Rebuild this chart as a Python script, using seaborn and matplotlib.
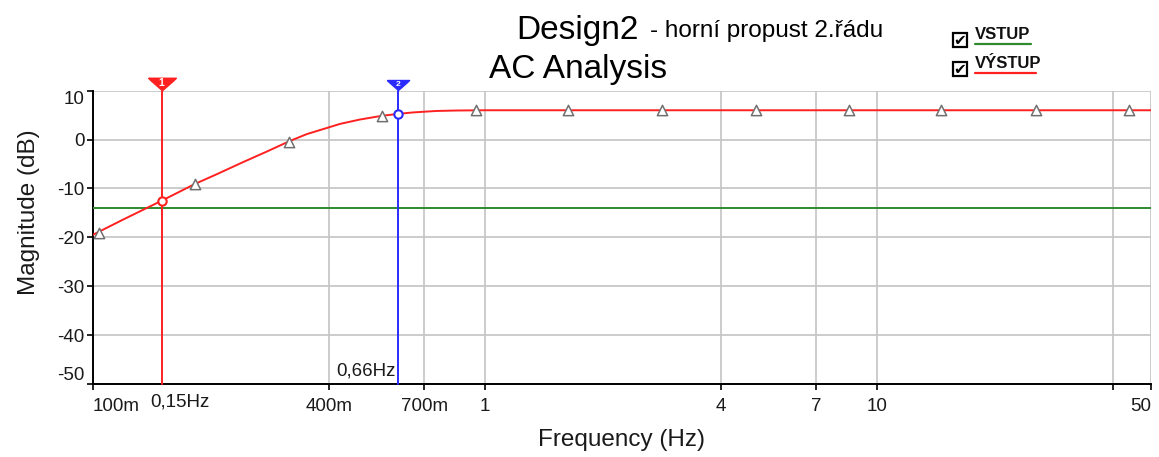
import matplotlib
matplotlib.use("Agg")
import matplotlib.pyplot as plt
import matplotlib.transforms as mtransforms
from matplotlib.path import Path
from matplotlib.patches import Rectangle
from matplotlib.lines import Line2D
from matplotlib import font_manager
import seaborn as sns

# ---------------- data ----------------
freq_hz = [0.1, 0.12, 0.15, 0.182, 0.207, 0.242, 0.278, 0.316, 0.351, 0.4, 0.427,
           0.48, 0.545, 0.6, 0.655, 0.75, 0.85, 1.0, 1.5, 3.0, 10.0, 50.0]
vystup_db = [-19.5, -16.3, -12.5, -9.1, -7.1, -4.6, -2.45, -0.4, 1.1, 2.5, 3.2,
             4.1, 4.85, 5.25, 5.55, 5.85, 5.95, 6.0, 6.0, 6.0, 6.0, 6.0]
vstup_freq = [0.1, 50.0]
vstup_db = [-14.0, -14.0]
marker_freq = [0.104, 0.182, 0.316, 0.547, 0.95, 1.63, 2.83, 4.93, 8.47, 14.6, 25.4, 43.9]
marker_db = [-19.2, -9.1, -0.4, 4.9, 5.95, 6.0, 6.0, 6.0, 6.0, 6.0, 6.0, 6.0]
cursor_freq = [0.15, 0.6]
cursor_db = [-12.5, 5.25]
cursor_ids = ["1", "2"]
cursor_labels = ["0,15Hz", "0,66Hz"]
x_ticks = [0.1, 0.4, 0.7, 1, 4, 7, 10, 40, 50]
x_tick_labels = ["100m", "400m", "700m", "1", "4", "7", "10", "", "50"]
y_ticks = [-50, -40, -30, -20, -10, 0, 10]
y_tick_labels = ["-50", "-40", "-30", "-20", "-10", "0", "10"]
legend_names = ["VSTUP", "VÝSTUP"]

# ---------------- style ----------------
sns.set_theme(style="white")
BASE = "Liberation Sans"
plt.rcParams["font.family"] = [BASE, "DejaVu Sans"]


def has_font(name):
    try:
        font_manager.findfont(font_manager.FontProperties(family=name),
                              fallback_to_default=False)
        return True
    except Exception:
        return False


NARROW = has_font("Liberation Sans Narrow")

RED = "#ff2020"
GREEN = "#2e8b2e"
BLUE = "#2a2aff"
GRID = "#c4c4c4"

W, H = 1159, 457
fig, ax = plt.subplots(figsize=(W / 100, H / 100), dpi=100)
fig.subplots_adjust(left=92.7 / W, right=1151 / W, bottom=1 - 384 / H, top=1 - 90.7 / H)

ax.set_xscale("log")
ax.set_xlim(0.1, 50)
ax.set_ylim(-50, 10)
ax.set_xticks(x_ticks)
ax.set_xticklabels(x_tick_labels)
ax.minorticks_off()
ax.set_yticks(y_ticks)
ax.set_yticklabels(y_tick_labels)
ax.grid(True, color=GRID, lw=1.2, zorder=0)
ax.set_axisbelow(True)

for s in ["top", "right"]:
    ax.spines[s].set_visible(False)
for s in ["left", "bottom"]:
    ax.spines[s].set_color("black")
    ax.spines[s].set_linewidth(1.4)
ax.tick_params(axis="both", direction="out", length=4, width=1.2, color="black",
               labelsize=13.5, labelcolor="#1a1a1a", bottom=True, left=True)
ax.tick_params(axis="y", pad=2)
ax.tick_params(axis="x", pad=6)

xl = ax.get_xticklabels()
xl[0].set_ha("left")
xl[-1].set_ha("right")
yl = ax.get_yticklabels()
yl[0].set_va("bottom")
yl[-1].set_va("top")

# input (green) and output (red) curves
sns.lineplot(x=vstup_freq, y=vstup_db, ax=ax, color=GREEN, lw=1.4,
             estimator=None, sort=False, zorder=3)
sns.lineplot(x=freq_hz, y=vystup_db, ax=ax, color=RED, lw=1.4,
             estimator=None, sort=False, zorder=4)
sns.scatterplot(x=marker_freq, y=marker_db, ax=ax, marker="^", s=55,
                color="white", edgecolor="#707070", linewidth=1.1, zorder=5)

# cursors
blend = mtransforms.blended_transform_factory(ax.transData, ax.transAxes)
flag = Path([(-1, 0.45), (1, 0.45), (0.8, 0.25), (0, -0.45), (-0.8, 0.25), (-1, 0.45)])
cur_colors = [RED, BLUE]
flag_sizes = [20, 16]
flag_y = [1.023, 1.019]
id_sizes = [7.5, 6]
for i in range(2):
    c = cur_colors[i]
    ax.axvline(cursor_freq[i], ymin=0, ymax=1.0, color=c, lw=1.4, zorder=6, clip_on=False)
    ax.plot([cursor_freq[i]], [flag_y[i]], transform=blend, marker=flag,
            markersize=flag_sizes[i], color=c, clip_on=False, zorder=7)
    ax.annotate(cursor_ids[i], xy=(cursor_freq[i], flag_y[i]), xycoords=blend,
                xytext=(0, 0.5), textcoords="offset points",
                ha="center", va="center", color="white", fontsize=id_sizes[i],
                fontweight="bold", zorder=8, annotation_clip=False)
    ax.plot([cursor_freq[i]], [cursor_db[i]], marker="o", markersize=6,
            markerfacecolor="white", markeredgecolor=c, markeredgewidth=1.5, zorder=7)

ax.annotate(cursor_labels[0], xy=(cursor_freq[0], 0), xycoords=blend,
            xytext=(-8, -6.5), textcoords="offset points", ha="left", va="top",
            fontsize=13.5, color="#1a1a1a", annotation_clip=False)
ax.annotate(cursor_labels[1], xy=(cursor_freq[1], 0), xycoords=blend,
            xytext=(-1.5, 3.5), textcoords="offset points", ha="right", va="bottom",
            fontsize=13.5, color="#1a1a1a", annotation_clip=False)

# axis labels
ax.set_xlabel("Frequency (Hz)", fontsize=17.5, color="#1a1a1a")
ax.set_ylabel("Magnitude (dB)", fontsize=17.5, color="#1a1a1a")
ax.xaxis.set_label_coords(0.5, -0.155)
ax.yaxis.set_label_coords(-0.05, 0.586)


def fx(px):
    return px / W


def fy(py):
    return 1 - py / H


# titles
fig.text(fx(516), fy(39), "Design2", fontsize=24, ha="left", va="baseline", color="black")
if NARROW:
    fig.text(fx(650), fy(37), "- horní propust 2.řádu", fontsize=20.5, ha="left",
             va="baseline", color="black", family=["Liberation Sans Narrow", "DejaVu Sans"])
else:
    fig.text(fx(650), fy(37), "- horní propust 2.řádu", fontsize=17.5, ha="left",
             va="baseline", color="black")
fig.text(fx(489), fy(78), "AC Analysis", fontsize=24, ha="left", va="baseline", color="black")

# legend with check boxes
leg_colors = [GREEN, RED]
box_top = [33, 62]
text_base = [39, 68]
line_y = [44, 73]
line_x1 = [1031, 1036]
for i in range(2):
    fig.add_artist(Rectangle((fx(953), fy(box_top[i] + 14)), 14 / W, 14 / H,
                             transform=fig.transFigure, fill=False, ec="black", lw=1.6))
    fig.text(fx(960), fy(box_top[i] + 7.5), "✔", fontsize=11, ha="center", va="center",
             family=["DejaVu Sans"], color="black")
    fig.text(fx(975), fy(text_base[i]), legend_names[i], fontsize=12, fontweight="bold",
             ha="left", va="baseline", color="#111111")
    fig.add_artist(Line2D([fx(975), fx(line_x1[i])], [fy(line_y[i])] * 2,
                          transform=fig.transFigure, color=leg_colors[i], lw=1.6))

fig.savefig("out.png", dpi=100)
